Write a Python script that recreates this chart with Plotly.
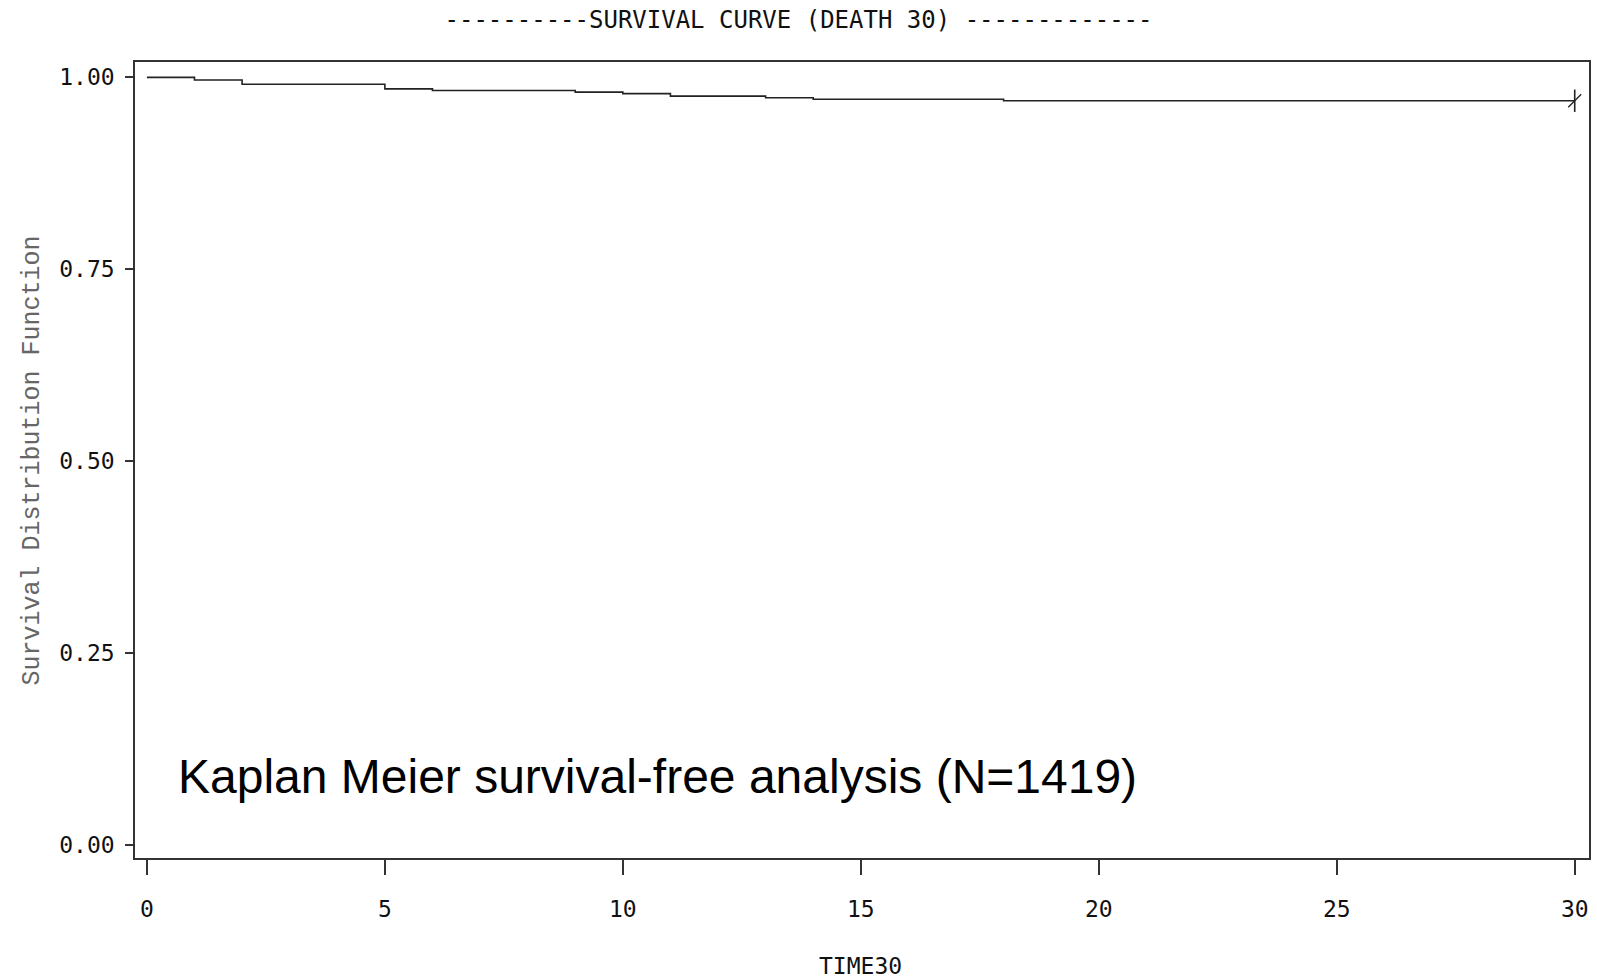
import plotly.graph_objects as go

# Kaplan-Meier step curve (time in TIME30 units, survival probability)
times = [0, 1, 2, 5, 6, 9, 10, 11, 13, 14, 18, 30]
survival = [1.000, 0.9965, 0.9910, 0.9850, 0.9828, 0.9808, 0.9788, 0.9755, 0.9735, 0.9715, 0.9695, 0.9695]
censor_time = [30]
censor_surv = [0.9695]

x_ticks = [0, 5, 10, 15, 20, 25, 30]
y_ticks = [0.00, 0.25, 0.50, 0.75, 1.00]
y_tick_labels = ["0.00", "0.25", "0.50", "0.75", "1.00"]

title_text = "----------SURVIVAL CURVE (DEATH 30) -------------"
x_title = "TIME30"
y_title = "Survival Distribution Function"
note_text = "Kaplan Meier survival-free analysis (N=1419)"

mono = "DejaVu Sans Mono"
axis_col = "#333333"
line_col = "#222222"

fig = go.Figure()
fig.add_trace(go.Scatter(
    x=times, y=survival, mode="lines", line=dict(shape="hv", color=line_col, width=1.6),
    showlegend=False, hoverinfo="skip"))
fig.add_trace(go.Scatter(
    x=censor_time, y=censor_surv, mode="markers",
    marker=dict(symbol="line-ns-open", size=16, color=line_col, line=dict(color=line_col, width=1.6)),
    showlegend=False, hoverinfo="skip"))
fig.add_trace(go.Scatter(
    x=censor_time, y=censor_surv, mode="markers",
    marker=dict(symbol="line-ne-open", size=13, color=line_col, line=dict(color=line_col, width=1.4)),
    showlegend=False, hoverinfo="skip"))

fig.update_layout(
    width=1597, height=980,
    margin=dict(l=135, r=6, t=62, b=122),
    paper_bgcolor="white", plot_bgcolor="white",
    title=dict(text=title_text, x=0.5, xref="container", xanchor="center",
               y=1 - 19.5 / 980, yref="container", yanchor="middle",
               font=dict(family=mono, size=24, color="#111111")),
    xaxis=dict(range=[-0.25, 30.3], tickvals=x_ticks, ticktext=[str(v) for v in x_ticks],
               ticks="outside", ticklen=15, tickwidth=1.5, tickcolor=axis_col,
               showline=True, linecolor=axis_col, linewidth=1.5, mirror=True,
               showgrid=False, zeroline=False, ticklabelstandoff=15,
               tickfont=dict(family=mono, size=23, color="#111111")),
    yaxis=dict(range=[-0.0175, 1.020], tickvals=y_ticks, ticktext=y_tick_labels,
               ticks="outside", ticklen=8, tickwidth=1.5, tickcolor=axis_col,
               showline=True, linecolor=axis_col, linewidth=1.5, mirror=True,
               showgrid=False, zeroline=False, ticklabelstandoff=6,
               tickfont=dict(family=mono, size=23, color="#111111")),
    annotations=[
        dict(text=x_title, xref="paper", yref="paper", x=0.4987, y=-0.1356,
             xanchor="center", yanchor="middle", showarrow=False,
             font=dict(family=mono, size=23, color="#111111")),
        dict(text=y_title, xref="paper", yref="paper", x=-0.0705, y=0.5,
             xanchor="center", yanchor="middle", showarrow=False, textangle=-90,
             font=dict(family="Liberation Mono", size=25, color="#666666")),
        dict(text=note_text, xref="x", yref="y", x=0.62, y=0.089,
             xanchor="left", yanchor="middle", showarrow=False,
             font=dict(family="Liberation Sans", size=48, color="#000000")),
    ],
)

fig.write_html("out.html", config={"displayModeBar": False},
               post_script="document.body.style.margin='0';document.body.style.overflow='hidden';")
